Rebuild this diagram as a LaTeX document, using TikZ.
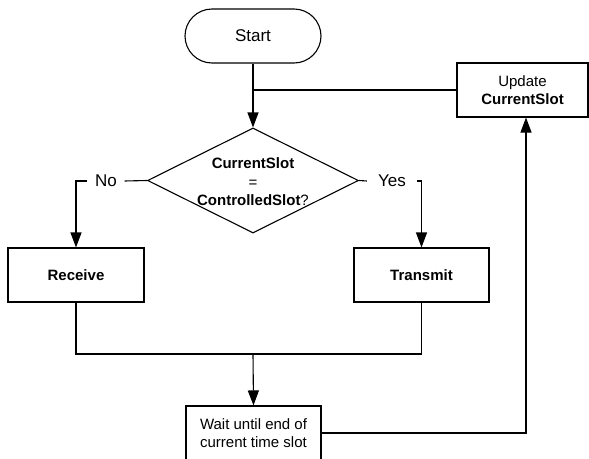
\documentclass[tikz,border=0pt]{standalone}
\usepackage{fontspec}
\setmainfont{Liberation Sans}
\usetikzlibrary{shapes.geometric,arrows.meta}
\tikzset{
  base/.style={draw, line width=1.1pt, inner sep=0pt, align=center},
  procbox/.style={base, minimum width=135pt, minimum height=54pt, font=\fontsize{15}{18.5}\selectfont},
  termbox/.style={base, minimum width=136pt, minimum height=54pt, rounded corners=27pt, font=\fontsize{17}{20}\selectfont},
  decbox/.style={draw, line width=1.1pt, diamond, minimum width=211pt, minimum height=105pt, inner sep=0pt},
  dectext/.style={align=center, inner sep=0pt, font=\fontsize{15}{18.5}\selectfont},
  lbl/.style={inner ysep=2pt, font=\fontsize{17}{20}\selectfont},
  conn/.style={line width=1.1pt},
  arr/.style={line width=1.1pt, -{Triangle[length=15pt,width=11pt]}}
}
\begin{document}
\begin{tikzpicture}[x=1pt,y=1pt]
\useasboundingbox (0,0) rectangle (589,-458);
\node[termbox] (start) at (253,-36) {Start};
\node[procbox, minimum width=131pt] (update) at (522.5,-90) {Update\\\textbf{CurrentSlot}};
\node[decbox] (dec) at (253,-180.5) {};
\node[dectext] (dect) at (253,-182) {\textbf{CurrentSlot}\\=\\\textbf{ControlledSlot}?};
\node[procbox, minimum width=136pt] (receive) at (76,-275) {\textbf{Receive}};
\node[procbox] (transmit) at (421.5,-275) {\textbf{Transmit}};
\node[procbox] (wait) at (253.5,-433) {Wait until end of\\current time slot};
\node[lbl, inner xsep=7.5pt] (no) at (106,-181) {No};
\node[lbl, inner xsep=11pt] (yes) at (392,-181) {Yes};
\coordinate (join) at (253,-354);
\coordinate (back) at (526,-433);

\draw[arr] (start.south) -- (dec.north);
\draw[conn] (update.west) -- (update.west -| start.south);
\draw[conn] (dec.west) -- (no.east);
\draw[arr] (no.west) -- (no.west -| receive.north) -- (receive.north);
\draw[conn] (dec.east) -- (yes.west);
\draw[arr] (yes.east) -- (yes.east -| transmit.north) -- (transmit.north);
\draw[conn] (receive.south) -- (receive.south |- join) -- (transmit.south |- join) -- (transmit.south);
\draw[arr] (join) -- (wait.north);
\draw[arr] (wait.east) -- (back) -- (back |- update.south);
\end{tikzpicture}
\end{document}
